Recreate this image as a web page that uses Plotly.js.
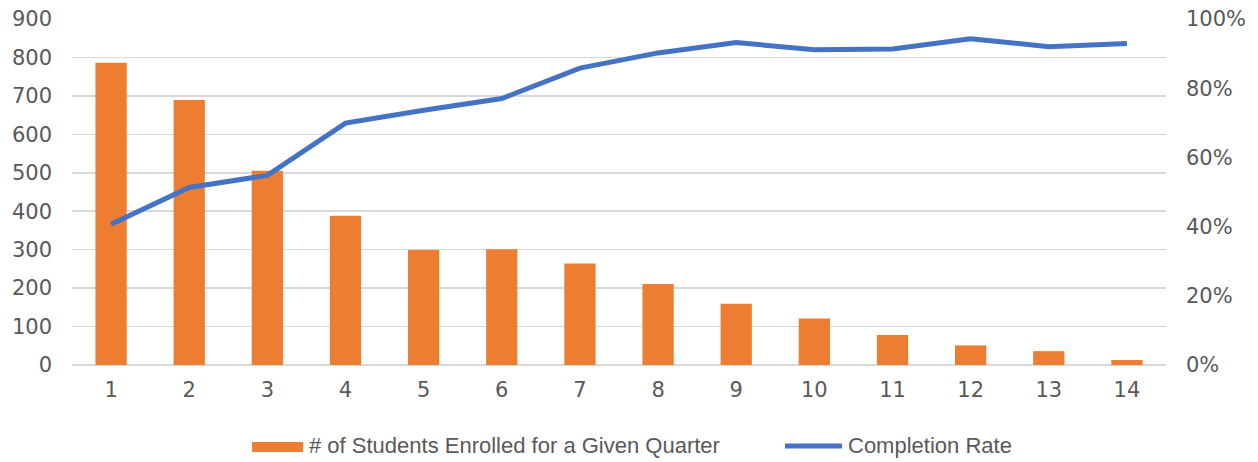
<!DOCTYPE html>
<html>
<head>
<meta charset="utf-8">
<script src="https://cdn.plot.ly/plotly-3.0.1.min.js"></script>
<style>
  html, body { margin: 0; padding: 0; background: #fff; }
  #chart { width: 1258px; height: 462px; }
</style>
</head>
<body>
<div id="chart"></div>
<script>
// Quarter number (x categories)
const quarters = ['1', '2', '3', '4', '5', '6', '7', '8', '9', '10', '11', '12', '13', '14'];

// Students enrolled in each quarter (left axis)
const enrolled = [786, 689, 505, 388, 299, 301, 264, 211, 159, 121, 78, 51, 36, 13];

// Completion rate by quarter (right axis, fraction)
const completionRate = [0.407, 0.513, 0.548, 0.699, 0.736, 0.770, 0.858, 0.902, 0.932, 0.911, 0.913, 0.943, 0.920, 0.929];

const barName = '# of Students Enrolled for a Given Quarter';
const lineName = 'Completion Rate';

const barColor = '#ED7D31';
const lineColor = '#4472C4';
const textColor = '#595959';
const gridColor = '#D9D9D9';
const fontFamily = '"Liberation Sans", Arial, sans-serif';
const tickFamily = '"DejaVu Sans", "Liberation Sans", sans-serif';
const tickFont = { family: tickFamily, size: 21, color: textColor };

const traces = [
  {
    type: 'bar',
    name: barName,
    x: quarters,
    y: enrolled,
    marker: { color: barColor },
    width: 0.4,
    yaxis: 'y',
    hoverinfo: 'x+y'
  },
  {
    type: 'scatter',
    mode: 'lines',
    name: lineName,
    x: quarters,
    y: completionRate,
    line: { color: lineColor, width: 5 },
    yaxis: 'y2'
  }
];

// Legend drawn below the plot area in paper coordinates
const legendY = -0.234;
const layout = {
  width: 1258,
  height: 462,
  margin: { l: 72, r: 92, t: 19, b: 97 },
  paper_bgcolor: '#fff',
  plot_bgcolor: '#fff',
  showlegend: false,
  font: { family: fontFamily, size: 22, color: textColor },
  xaxis: {
    type: 'category',
    showgrid: false,
    zeroline: false,
    showline: false,
    ticks: '',
    ticklabelstandoff: 10,
    tickfont: tickFont
  },
  yaxis: {
    range: [0, 900],
    dtick: 100,
    tick0: 0,
    showgrid: true,
    gridcolor: gridColor,
    gridwidth: 1.5,
    zeroline: true,
    zerolinecolor: gridColor,
    zerolinewidth: 1.5,
    showline: false,
    ticks: '',
    ticklabelstandoff: 19,
    tickfont: tickFont
  },
  yaxis2: {
    overlaying: 'y',
    side: 'right',
    range: [0, 1],
    dtick: 0.2,
    tick0: 0,
    tickformat: '.0%',
    showgrid: false,
    zeroline: false,
    showline: false,
    ticks: '',
    ticklabelstandoff: 19,
    tickfont: tickFont
  },
  bargap: 0.6,
  shapes: [
    {
      type: 'rect', xref: 'paper', yref: 'paper',
      x0: 0.1645, x1: 0.2112, y0: -0.2512, y1: -0.2223,
      fillcolor: barColor, line: { width: 0 }
    },
    {
      type: 'line', xref: 'paper', yref: 'paper',
      x0: 0.6517, x1: 0.7038, y0: legendY, y1: legendY,
      line: { color: lineColor, width: 5 }
    }
  ],
  annotations: [
    {
      xref: 'paper', yref: 'paper', x: 0.2148, y: legendY,
      xanchor: 'left', yanchor: 'middle', showarrow: false,
      text: barName, font: { family: fontFamily, size: 22, color: textColor }
    },
    {
      xref: 'paper', yref: 'paper', x: 0.7075, y: legendY,
      xanchor: 'left', yanchor: 'middle', showarrow: false,
      text: lineName, font: { family: fontFamily, size: 22, color: textColor }
    }
  ]
};

Plotly.newPlot('chart', traces, layout, { displayModeBar: false, staticPlot: true });
</script>
</body>
</html>
